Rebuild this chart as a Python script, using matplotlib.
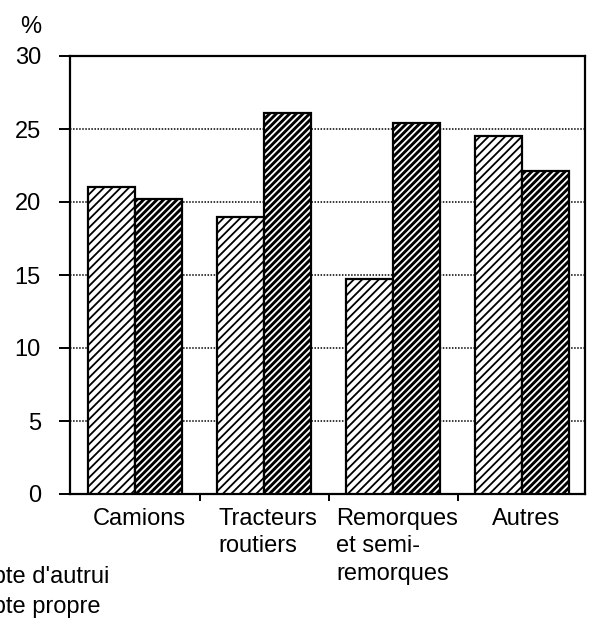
import matplotlib
matplotlib.use("Agg")
import matplotlib.pyplot as plt
import numpy as np

plt.rcParams['font.family'] = ['Liberation Sans', 'DejaVu Sans']
plt.rcParams['hatch.linewidth'] = 1.3

# data
categories = ["Camions", "Tracteurs\nroutiers", "Remorques\net semi-\nremorques", "Autres"]
compte_autrui = [21.0, 19.0, 14.7, 24.5]
compte_propre = [20.2, 26.1, 25.4, 22.1]
series_names = ["Compte d'autrui", "Compte propre"]

fig = plt.figure(figsize=(5.92, 6.23), dpi=100)
ax = fig.add_axes([70 / 592, 1 - 494 / 623, 515 / 592, 438 / 623])

x = np.arange(len(categories))
w = 0.365

# light bars: white with black hatch
ax.bar(x - w / 2, compte_autrui, w, color="white", edgecolor="black",
       hatch="////", linewidth=1.6, zorder=3)
# dark bars: black fill with white hatch, then black outline
ax.bar(x + w / 2, compte_propre, w, color="black", edgecolor="white",
       hatch="/////", linewidth=0, zorder=3)
ax.bar(x + w / 2, compte_propre, w, color="none", edgecolor="black",
       linewidth=1.6, zorder=4)

ax.set_xlim(-0.504, 3.488)
ax.set_ylim(0, 30)
ax.set_yticks([0, 5, 10, 15, 20, 25, 30])
ax.tick_params(axis="y", labelsize=17, length=8, width=1.4, direction="out", pad=13)
ax.set_xticks(x[:-1] + 0.5)
ax.set_xticklabels([])
ax.tick_params(axis="x", length=5, width=1.4, direction="out")
for i, lab in enumerate(categories):
    ax.text(i + 0.03, -0.95, lab, ha="center", va="top", multialignment="left",
            fontsize=17, linespacing=1.33)

ax.yaxis.grid(True, color="black", linestyle=(0, (1, 1)), linewidth=1.1, zorder=1)
for s in ax.spines.values():
    s.set_linewidth(1.6)

fig.text(20 / 592, 1 - 27 / 623, "%", fontsize=17, ha="left", va="center")

# legend texts (clipped at left edge as in the original)
fig.text(-57 / 592, 1 - 583 / 623, series_names[0], fontsize=17, ha="left", va="baseline")
fig.text(-57 / 592, 1 - 613 / 623, series_names[1], fontsize=17, ha="left", va="baseline")

fig.savefig("out.png", dpi=100)
